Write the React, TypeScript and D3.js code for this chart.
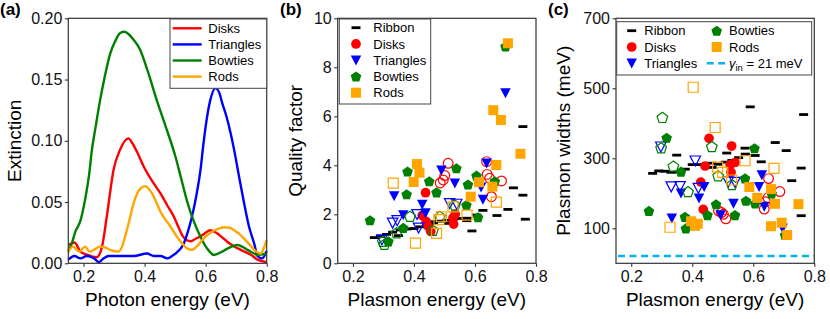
import * as d3 from "d3";
import React, { useEffect, useRef } from "react";

const FONT = "'Liberation Sans', Arial, sans-serif";

// (a) extinction spectra: [photon energy (eV), extinction]
const disksSpectrum = [
  [0.15, 0.015], [0.17, 0.017], [0.19, 0.0095], [0.21, 0.007], [0.243, 0.005], [0.26, 0.013],
  [0.276, 0.038], [0.298, 0.076], [0.32, 0.093], [0.347, 0.102], [0.36, 0.098], [0.375, 0.091],
  [0.397, 0.079], [0.425, 0.067], [0.452, 0.057], [0.475, 0.047], [0.496, 0.038], [0.51, 0.03],
  [0.523, 0.023], [0.537, 0.019], [0.551, 0.018], [0.567, 0.02], [0.583, 0.022], [0.6, 0.025],
  [0.615, 0.027], [0.637, 0.0245], [0.655, 0.021], [0.671, 0.0176], [0.692, 0.014], [0.715, 0.011],
  [0.748, 0.007], [0.77, 0.003], [0.8, 0.001],
];
const trianglesSpectrum = [
  [0.15, 0.003], [0.17, 0.006], [0.19, 0.004], [0.21, 0.006], [0.235, 0.004], [0.25, 0.001],
  [0.265, 0.004], [0.283, 0.006], [0.32, 0.006], [0.364, 0.006], [0.408, 0.008], [0.43, 0.006],
  [0.452, 0.006], [0.474, 0.004], [0.49, 0.006], [0.506, 0.009], [0.518, 0.012], [0.528, 0.016],
  [0.542, 0.026], [0.555, 0.038], [0.57, 0.056], [0.583, 0.076], [0.593, 0.098], [0.605, 0.12],
  [0.615, 0.133], [0.632, 0.143], [0.645, 0.139], [0.654, 0.131], [0.668, 0.12], [0.682, 0.106],
  [0.693, 0.093], [0.71, 0.07], [0.726, 0.049], [0.742, 0.03], [0.759, 0.016], [0.77, 0.006],
  [0.785, 0.004], [0.8, 0.01],
];
const bowtiesSpectrum = [
  [0.15, 0.01], [0.16, 0.015], [0.172, 0.025], [0.19, 0.035], [0.205, 0.052], [0.22, 0.076],
  [0.226, 0.09], [0.24, 0.112], [0.254, 0.133], [0.27, 0.153], [0.287, 0.171], [0.305, 0.182],
  [0.32, 0.188], [0.334, 0.189], [0.348, 0.187], [0.362, 0.183], [0.386, 0.174], [0.41, 0.157],
  [0.44, 0.133], [0.47, 0.111], [0.5, 0.088], [0.52, 0.069], [0.54, 0.05], [0.56, 0.035],
  [0.583, 0.0217], [0.605, 0.012], [0.627, 0.0068], [0.65, 0.009], [0.671, 0.012], [0.704, 0.015],
  [0.737, 0.011], [0.77, 0.007], [0.8, 0.008],
];
const rodsSpectrum = [
  [0.15, 0.009], [0.165, 0.0136], [0.186, 0.0095], [0.205, 0.0136], [0.22, 0.0095], [0.24, 0.012],
  [0.254, 0.0136], [0.27, 0.013], [0.287, 0.011], [0.314, 0.0095], [0.325, 0.013], [0.336, 0.0217],
  [0.35, 0.035], [0.364, 0.049], [0.386, 0.061], [0.402, 0.063], [0.424, 0.057], [0.44, 0.049],
  [0.452, 0.042], [0.485, 0.03], [0.505, 0.022], [0.523, 0.0163], [0.54, 0.012], [0.555, 0.011],
  [0.572, 0.014], [0.589, 0.019], [0.605, 0.023], [0.621, 0.0258], [0.64, 0.028], [0.66, 0.0294],
  [0.68, 0.029], [0.693, 0.027], [0.71, 0.024], [0.726, 0.02], [0.745, 0.015], [0.759, 0.011],
  [0.78, 0.008], [0.79, 0.012], [0.8, 0.019],
];
const spectrumNames = ["Disks", "Triangles", "Bowties", "Rods"];
const spectrumColors = ["#ff0000", "#0000ff", "#008000", "#ffa500"];

// (b) quality factor: [plasmon energy (eV), Q]
const ribbonQ = [
  [0.27, 1.05], [0.29, 1.1], [0.31, 1.18], [0.33, 1.27], [0.349, 1.13], [0.355, 1.36], [0.377, 1.4],
  [0.4, 1.42], [0.42, 1.49], [0.443, 1.6], [0.464, 1.62], [0.465, 1.7], [0.486, 1.72], [0.508, 1.76],
  [0.513, 1.63], [0.53, 1.8], [0.552, 1.83], [0.573, 1.74], [0.574, 1.84], [0.59, 1.32], [0.606, 1.97],
  [0.626, 2.16], [0.672, 1.95], [0.708, 2.2], [0.726, 3.08], [0.757, 2.78], [0.765, 1.8], [0.757, 5.58],
];
const disksQ = [[0.438, 2.88], [0.427, 1.95], [0.44, 1.7], [0.447, 1.5], [0.455, 1.3], [0.528, 1.85], [0.53, 1.6], [0.535, 2.0]];
const disksOpenQ = [[0.486, 3.28], [0.496, 3.4], [0.501, 3.58], [0.512, 4.08], [0.638, 4.15], [0.64, 3.63], [0.648, 3.47], [0.687, 3.36], [0.654, 2.72]];
const trianglesQ = [[0.335, 2.75], [0.365, 1.97], [0.427, 2.4], [0.438, 2.05], [0.49, 3.8], [0.534, 3.27], [0.62, 3.1], [0.626, 2.6], [0.638, 4.08], [0.7, 6.95]];
const trianglesOpenQ = [[0.295, 0.97], [0.33, 1.65], [0.345, 1.75], [0.41, 2.0], [0.415, 1.45], [0.517, 2.45], [0.54, 2.42]];
const bowtiesQ = [[0.256, 1.76], [0.316, 0.9], [0.365, 1.45], [0.376, 2.82], [0.379, 3.75], [0.45, 3.35], [0.474, 2.9], [0.539, 3.88], [0.572, 2.38], [0.577, 3.22], [0.605, 3.58], [0.61, 1.88], [0.665, 3.35], [0.7, 8.85]];
const bowtiesOpenQ = [[0.303, 0.78], [0.298, 0.9], [0.343, 1.25], [0.387, 1.92], [0.462, 1.35], [0.485, 1.92], [0.534, 2.38]];
const rodsQ = [[0.399, 3.32], [0.41, 4.05], [0.418, 3.7], [0.586, 2.72], [0.613, 3.31], [0.657, 3.13], [0.67, 4.01], [0.66, 6.25], [0.685, 5.85], [0.708, 8.98], [0.749, 4.47]];
const rodsOpenQ = [[0.332, 3.27], [0.405, 0.82], [0.474, 1.22], [0.482, 1.78], [0.49, 1.9], [0.528, 2.3], [0.574, 1.97], [0.67, 2.5]];

// (c) plasmon widths: [plasmon energy (eV), width (meV)]
const ribbonW = [
  [0.27, 257], [0.29, 264], [0.31, 263], [0.33, 260], [0.349, 309], [0.355, 261], [0.377, 269],
  [0.4, 282], [0.42, 282], [0.443, 277], [0.464, 286], [0.465, 274], [0.486, 283], [0.508, 289],
  [0.513, 315], [0.53, 294], [0.552, 302], [0.573, 329], [0.574, 312], [0.59, 447], [0.606, 308],
  [0.626, 290], [0.672, 345], [0.708, 322], [0.726, 236], [0.757, 272], [0.765, 425], [0.757, 136],
];
const disksW = [[0.455, 357], [0.529, 335], [0.442, 278], [0.428, 232], [0.436, 154], [0.524, 281], [0.54, 288], [0.527, 260]];
const disksOpenW = [[0.486, 150], [0.496, 145], [0.502, 140], [0.51, 127], [0.636, 155], [0.64, 176], [0.648, 187], [0.687, 205], [0.65, 242]];
const trianglesW = [[0.333, 129], [0.363, 200], [0.422, 186], [0.439, 219], [0.493, 138], [0.535, 171], [0.619, 219], [0.628, 252], [0.636, 162], [0.696, 100]];
const trianglesOpenW = [[0.297, 333], [0.331, 219], [0.36, 220], [0.41, 293], [0.42, 215], [0.518, 233], [0.54, 232]];
const bowtiesW = [[0.258, 150], [0.316, 359], [0.363, 262], [0.376, 133], [0.379, 100], [0.45, 138], [0.478, 169], [0.54, 138], [0.573, 243], [0.576, 179], [0.606, 171], [0.604, 329], [0.66, 200], [0.704, 81]];
const bowtiesOpenW = [[0.302, 417], [0.298, 330], [0.338, 278], [0.386, 205], [0.464, 334], [0.485, 250], [0.53, 225]];
const rodsW = [[0.396, 120], [0.409, 107], [0.418, 113], [0.587, 218], [0.613, 187], [0.658, 212], [0.671, 170], [0.658, 106], [0.693, 116], [0.711, 81], [0.748, 169]];
const rodsOpenW = [[0.327, 103], [0.403, 503], [0.475, 388], [0.483, 275], [0.5, 260], [0.529, 238], [0.573, 293], [0.668, 271]];
const intrinsicWidth = 21;

const energyTicks = [0.2, 0.4, 0.6, 0.8];
const extinctionTicks = [0, 0.05, 0.1, 0.15, 0.2];
const qualityTicks = [0, 2, 4, 6, 8, 10];
const widthTicks = [100, 300, 500, 700];

const TOP = 18.3, BOTTOM = 263.3;

// marker outline centred on 0,0
const markerPath = (shape, s = 5) => {
  if (shape === "circle") return d3.symbol(d3.symbolCircle, Math.PI * s * s * 0.95)();
  if (shape === "square") return `M${-s},${-s}H${s}V${s}H${-s}Z`;
  if (shape === "tri") return `M${-s * 1.05},${-s * 0.95}H${s * 1.05}L0,${s * 1.05}Z`;
  if (shape === "pent") {
    const r = s * 1.12;
    const pts = d3.range(5).map((k) => {
      const a = -Math.PI / 2 + (k * 2 * Math.PI) / 5;
      return [r * Math.cos(a), r * Math.sin(a) + 0.6];
    });
    return "M" + pts.map((p) => p.join(",")).join("L") + "Z";
  }
  return `M-4.5,-1.4H4.5V1.4H-4.5Z`; // ribbon dash
};

const App = () => {
  const ref = useRef(null);

  useEffect(() => {
    const svg = d3.select(ref.current);
    svg.selectAll("*").remove();

    const frame = (x, y, yTicks, yFmt, xTitle, yTitle, yTitleX, label, labelX) => {
      const [l, r] = x.range();
      const xAxis = d3.axisBottom(x).tickValues(energyTicks).tickFormat(d3.format(".1f")).tickSize(3.5).tickPadding(4);
      const yAxis = d3.axisLeft(y).tickValues(yTicks).tickFormat(yFmt).tickSize(3.5).tickPadding(2.5);
      const gx = svg.append("g").attr("transform", `translate(0,${BOTTOM})`).call(xAxis);
      const gy = svg.append("g").attr("transform", `translate(${l},0)`).call(yAxis);
      [gx, gy].forEach((g) => {
        g.select(".domain").remove();
        g.selectAll("line").attr("stroke", "#333").attr("stroke-width", 1.1);
        g.selectAll("text").attr("font-family", FONT).attr("font-size", 16).attr("fill", "#111");
      });
      svg.append("rect").attr("x", l).attr("y", TOP).attr("width", r - l).attr("height", BOTTOM - TOP)
        .attr("fill", "none").attr("stroke", "#333").attr("stroke-width", 1.2);
      svg.append("text").attr("x", (l + r) / 2).attr("y", 306).attr("text-anchor", "middle")
        .attr("font-family", FONT).attr("font-size", 19).text(xTitle);
      svg.append("text").attr("transform", `translate(${yTitleX},${(TOP + BOTTOM) / 2}) rotate(-90)`)
        .attr("text-anchor", "middle").attr("font-family", FONT).attr("font-size", 19).text(yTitle);
      svg.append("text").attr("x", labelX).attr("y", 15).attr("font-family", FONT)
        .attr("font-weight", "bold").attr("font-size", 17).text(label);
    };

    const legendBox = (x0, y0, x1, y1) =>
      svg.append("rect").attr("x", x0).attr("y", y0).attr("width", x1 - x0).attr("height", y1 - y0)
        .attr("fill", "white").attr("stroke", "#444").attr("stroke-width", 1);

    const legendText = (x, y, t) =>
      svg.append("text").attr("x", x).attr("y", y + 4.6).attr("font-family", FONT).attr("font-size", 13).text(t);

    // ---------- (a) ----------
    const xa = d3.scaleLinear().domain([0.15, 0.8]).range([68.3, 266.7]);
    const ya = d3.scaleLinear().domain([0, 0.2]).range([BOTTOM, TOP]);
    const line = d3.line().x((d) => xa(d[0])).y((d) => ya(d[1])).curve(d3.curveMonotoneX);
    [disksSpectrum, trianglesSpectrum, bowtiesSpectrum, rodsSpectrum].forEach((s, i) => {
      svg.append("path").attr("d", line(s)).attr("fill", "none")
        .attr("stroke", spectrumColors[i]).attr("stroke-width", 2.4).attr("stroke-linejoin", "round");
    });
    frame(xa, ya, extinctionTicks, d3.format(".2f"), "Photon energy (eV)", "Extinction", 21, "(a)", 0);
    legendBox(170, 19, 266.7, 88.3);
    spectrumNames.forEach((n, i) => {
      const yy = 28.3 + i * 16.1;
      svg.append("line").attr("x1", 172.7).attr("x2", 201.7).attr("y1", yy).attr("y2", yy)
        .attr("stroke", spectrumColors[i]).attr("stroke-width", 2.4);
      legendText(208.3, yy, n);
    });

    // ---------- scatter panels ----------
    const shapes = [
      { name: "Ribbon", shape: "dash", color: "#000" },
      { name: "Disks", shape: "circle", color: "#ff0000" },
      { name: "Triangles", shape: "tri", color: "#0000ff" },
      { name: "Bowties", shape: "pent", color: "#008000" },
      { name: "Rods", shape: "square", color: "#ffa500" },
    ];

    const scatter = (x, y, sets) => {
      sets.forEach(([filled, open], i) => {
        const { shape, color } = shapes[i];
        const g = svg.append("g");
        if (open) {
          g.selectAll(".o").data(open).enter().append("path")
            .attr("d", markerPath(shape)).attr("transform", (d) => `translate(${x(d[0])},${y(d[1])})`)
            .attr("fill", "none").attr("stroke", color).attr("stroke-width", 1.2);
        }
        g.selectAll(".f").data(filled).enter().append("path")
          .attr("d", markerPath(shape)).attr("transform", (d) => `translate(${x(d[0])},${y(d[1])})`)
          .attr("fill", color);
      });
    };

    // (b)
    const xb = d3.scaleLinear().domain([0.15, 0.8]).range([337.7, 536]);
    const yb = d3.scaleLinear().domain([0, 10]).range([BOTTOM, TOP]);
    scatter(xb, yb, [
      [ribbonQ, null],
      [disksQ, disksOpenQ],
      [trianglesQ, trianglesOpenQ],
      [bowtiesQ, bowtiesOpenQ],
      [rodsQ, rodsOpenQ],
    ]);
    frame(xb, yb, qualityTicks, d3.format("d"), "Plasmon energy (eV)", "Quality factor", 302, "(b)", 280);
    legendBox(339.3, 19, 430.7, 104);
    shapes.forEach((s, i) => {
      const yy = 27.7 + i * 16.25;
      svg.append("path").attr("d", markerPath(s.shape)).attr("transform", `translate(356,${yy})`).attr("fill", s.color);
      legendText(373.3, yy, s.name);
    });

    // (c)
    const xc = d3.scaleLinear().domain([0.15, 0.8]).range([616, 814.3]);
    const yc = d3.scaleLinear().domain([0, 700]).range([BOTTOM, TOP]);
    svg.append("line").attr("x1", xc(0.15) + 2).attr("x2", xc(0.8)).attr("y1", yc(intrinsicWidth)).attr("y2", yc(intrinsicWidth))
      .attr("stroke", "#00b4f0").attr("stroke-width", 2.4).attr("stroke-dasharray", "7,4.5");
    scatter(xc, yc, [
      [ribbonW, null],
      [disksW, disksOpenW],
      [trianglesW, trianglesOpenW],
      [bowtiesW, bowtiesOpenW],
      [rodsW, rodsOpenW],
    ]);
    frame(xc, yc, widthTicks, d3.format("d"), "Plasmon energy (eV)", "Plasmon widths (meV)", 570, "(c)", 548);
    legendBox(616.7, 21.7, 811.7, 75);
    const cPos = [[0, 0], [0, 1], [0, 2], [1, 0], [1, 1]];
    shapes.forEach((s, i) => {
      const [col, row] = cPos[i];
      const yy = 30.7 + row * 16.3;
      const mx = col ? 716.7 : 631.7;
      svg.append("path").attr("d", markerPath(s.shape)).attr("transform", `translate(${mx},${yy})`).attr("fill", s.color);
      legendText(col ? 729 : 644.3, yy, s.name);
    });
    const gy3 = 30.7 + 2 * 16.3;
    svg.append("line").attr("x1", 706.7).attr("x2", 725).attr("y1", gy3).attr("y2", gy3)
      .attr("stroke", "#00b4f0").attr("stroke-width", 2.4).attr("stroke-dasharray", "7,4.5");
    const gt = svg.append("text").attr("x", 729).attr("y", gy3 + 4.6).attr("font-family", FONT).attr("font-size", 13);
    gt.append("tspan").attr("font-style", "italic").text("γ");
    gt.append("tspan").attr("font-size", 9.5).attr("dy", 3).text("in");
    gt.append("tspan").attr("dy", -3).text(" = 21 meV");
  }, []);

  return (
    <svg ref={ref} width={830} height={319}
      style={{ position: "absolute", left: 0, top: 0, background: "white" }} />
  );
};

export default App;
